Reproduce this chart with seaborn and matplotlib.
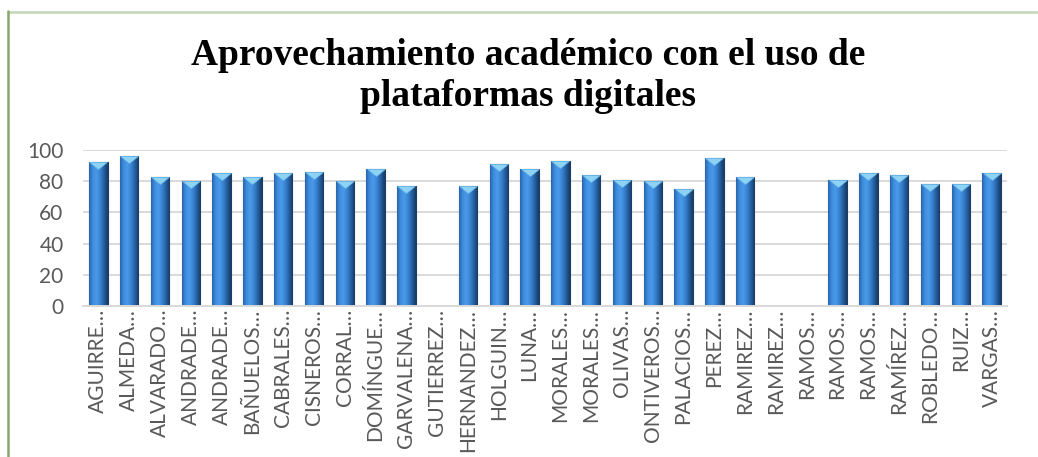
import numpy as np
import pandas as pd
import matplotlib
matplotlib.use("Agg")
import matplotlib.pyplot as plt
import seaborn as sns
from matplotlib.lines import Line2D
from matplotlib.path import Path
from matplotlib.markers import MarkerStyle
from matplotlib.colors import LinearSegmentedColormap

# ---- data ----
alumnos = ["AGUIRRE…", "ALMEDA…", "ALVARADO…", "ANDRADE…", "ANDRADE…",
           "BAÑUELOS…", "CABRALES…", "CISNEROS…", "CORRAL…", "DOMÍNGUE…",
           "GARVALENA…", "GUTIERREZ…", "HERNANDEZ…", "HOLGUIN…", "LUNA…",
           "MORALES…", "MORALES…", "OLIVAS…", "ONTIVEROS…", "PALACIOS…",
           "PEREZ…", "RAMIREZ…", "RAMIREZ…", "RAMOS…", "RAMOS…",
           "RAMOS…", "RAMÍREZ…", "ROBLEDO…", "RUIZ…", "VARGAS…"]
aprovechamiento = [92, 96, 83, 80, 85, 83, 85, 86, 80, 88,
                   77, None, 77, 91, 88, 93, 84, 81, 80, 75,
                   95, 83, None, None, 81, 85, 84, 78, 78, 85]
y_ticks = [0, 20, 40, 60, 80, 100]
titulo = "Aprovechamiento académico con el uso de\nplataformas digitales"

sns.set_style("white")
plt.rcParams['font.family'] = ['Lato', 'DejaVu Sans']

W, H = 1038, 457
fig = plt.figure(figsize=(W / 100, H / 100), dpi=100)
ax = fig.add_axes([83 / W, 1 - 306 / H, 924 / W, 156 / H])

df = pd.DataFrame({"idx": list(range(len(alumnos))),
                   "valor": pd.to_numeric(pd.Series(aprovechamiento, dtype="float"))})

sns.barplot(data=df, x="idx", y="valor", order=list(range(len(alumnos))),
            color="#3a86d4", saturation=1, width=0.6, errorbar=None,
            edgecolor="#1b3f66", linewidth=0.8, ax=ax, zorder=2)

# gradient shading clipped to each bar
cmap = LinearSegmentedColormap.from_list(
    "cyl", ["#2a64ad", "#3f8fe0", "#4a9ae9", "#3882d0", "#255e9f", "#173b63"])
grad = np.linspace(0, 1, 64).reshape(1, -1)
for p in list(ax.patches):
    bb = p.get_bbox()
    if bb.height <= 0:
        continue
    im = ax.imshow(grad, extent=[bb.x0, bb.x1, bb.y0, bb.y1], aspect="auto",
                   cmap=cmap, zorder=2.1, interpolation="bilinear")
    im.set_clip_path(p)

# pyramid-like caps at top of bars
cap = MarkerStyle(Path([(-1, 0), (1, 0), (0, -0.8), (-1, 0)],
                       [Path.MOVETO, Path.LINETO, Path.LINETO, Path.CLOSEPOLY]))
ax.scatter(df["idx"], df["valor"], marker=cap, s=160, color="#8fd3f4",
           edgecolor="#6bbbe8", linewidth=0.5, zorder=3)

ax.set_xlim(-0.5, len(alumnos) - 0.5)
ax.set_ylim(0, 100)
ax.set_yticks(y_ticks)
ax.set_xticks(range(len(alumnos)))
ax.set_xticklabels(alumnos, rotation=90, ha="center", va="top")
ax.set_xlabel("")
ax.set_ylabel("")
ax.tick_params(axis="both", length=0, colors="#595959", labelsize=15)
ax.tick_params(axis="y", pad=14)
ax.tick_params(axis="x", pad=2)
ax.yaxis.grid(True, color="#d9d9d9", linewidth=1.4)
ax.set_axisbelow(True)
for s in ["top", "right", "left"]:
    ax.spines[s].set_visible(False)
ax.spines["bottom"].set_color("#d9d9d9")
ax.spines["bottom"].set_linewidth(1.4)

fig.text(0.509, 1 - 76 / H, titulo, ha="center", va="center", fontsize=27,
         fontweight="bold", family="Liberation Serif", linespacing=1.2,
         color="black")

# chart frame lines
fig.add_artist(Line2D([7.5 / W, 1037 / W], [1 - 11.8 / H, 1 - 11.8 / H],
                      color="#c4d6b8", linewidth=1.8))
fig.add_artist(Line2D([7.5 / W, 7.5 / W], [1 - 11 / H, 0],
                      color="#86a96b", linewidth=1.8))

fig.savefig("out.png", dpi=100, facecolor="white")
